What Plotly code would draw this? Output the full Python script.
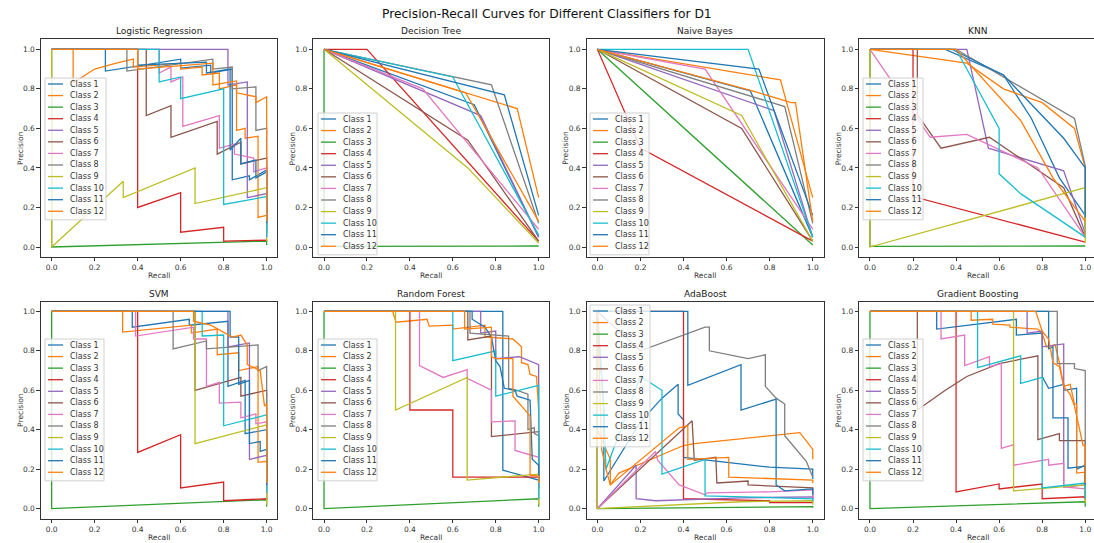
import plotly.graph_objects as go

W, H = 1094, 543

suptitle = "Precision-Recall Curves for Different Classifiers for D1"
panel_titles = ["Logistic Regression", "Decision Tree", "Naive Bayes", "KNN",
                "SVM", "Random Forest", "AdaBoost", "Gradient Boosting"]
class_names = [f"Class {i}" for i in range(1, 13)]
class_colors = ['#1f77b4', '#ff7f0e', '#2ca02c', '#d62728', '#9467bd', '#8c564b',
                '#e377c2', '#7f7f7f', '#bcbd22', '#17becf', '#1f77b4', '#ff7f0e']
tick_vals = [0.0, 0.2, 0.4, 0.6, 0.8, 1.0]
tick_text = ["0.0", "0.2", "0.4", "0.6", "0.8", "1.0"]

# (recall, precision) points per class, Class 1 .. Class 12
logistic_regression_pr = [
    [(0,1),(0.25,1),(0.25,0.89),(0.6,0.95),(0.6,0.905),(0.74,0.92),(0.74,0.88),(0.84,0.90),(0.84,0.34),(0.92,0.36),(0.92,0.34),(1.0,0.39),(1.0,0.16)],
    [(0,1),(0.1,1),(0.1,0.83),(0.2,0.9),(0.3,0.93),(0.38,0.95),(0.38,0.91),(0.6,0.93),(0.6,0.9),(0.7,0.91),(0.7,0.87),(0.78,0.88),(0.78,0.80),(0.86,0.82),(0.86,0.59),(0.9,0.60),(0.9,0.55),(0.96,0.56),(0.96,0.15),(1.0,0.16),(1.0,0.13)],
    [(0,1),(0,0),(1,0.03),(1,0.01)],
    [(0,1),(0.4,1),(0.4,0.2),(0.6,0.275),(0.6,0.075),(0.8,0.10),(0.8,0.03),(1.0,0.035),(1.0,0.03)],
    [(0,1),(0.82,1),(0.82,0.82),(0.91,0.835),(0.91,0.25),(1.0,0.27),(1.0,0.05)],
    [(0,1),(0.44,1),(0.44,0.665),(0.555,0.715),(0.555,0.555),(0.77,0.635),(0.77,0.47),(0.88,0.53),(0.88,0.42),(1.0,0.45),(1.0,0.07)],
    [(0,1),(0.5,1),(0.5,0.88),(0.555,0.91),(0.555,0.835),(0.61,0.86),(0.61,0.61),(0.78,0.665),(0.78,0.50),(0.85,0.52),(0.85,0.47),(0.94,0.45),(0.94,0.38),(1.0,0.40),(1.0,0.10)],
    [(0,1),(0.35,1),(0.35,0.89),(0.75,0.95),(0.75,0.90),(0.84,0.91),(0.84,0.80),(0.95,0.81),(0.95,0.59),(1.0,0.60),(1.0,0.20)],
    [(0,1),(0,0),(0.333,0.333),(0.333,0.25),(0.667,0.40),(0.667,0.22),(1.0,0.30),(1.0,0.03)],
    [(0,1),(0.5,1),(0.5,0.835),(0.6,0.86),(0.6,0.75),(0.8,0.80),(0.8,0.215),(1.0,0.255),(1.0,0.05)],
    [(0,1),(0.4,1),(0.4,0.92),(0.72,0.935),(0.72,0.88),(0.83,0.9),(0.83,0.49),(0.88,0.55),(0.88,0.42),(0.95,0.44),(0.95,0.35),(1.0,0.38),(1.0,0.12)],
    [(0,1),(0.4,1),(0.4,0.90),(0.75,0.93),(0.75,0.82),(0.86,0.84),(0.86,0.78),(0.95,0.76),(0.95,0.73),(1.0,0.76),(1.0,0.13)],
]

decision_tree_pr = [
    [(0,1),(0.7,0.72),(1,0.05)],
    [(0,1),(0.9,0.70),(1,0.25)],
    [(0,1),(0,0.003),(1,0.005)],
    [(0,1),(0.2,1),(1,0.03)],
    [(0,1),(0.73,0.665),(1,0.05)],
    [(0,1),(0.67,0.54),(1,0.03)],
    [(0,1),(0.46,0.80),(1,0.09)],
    [(0,1),(0.78,0.82),(1,0.12)],
    [(0,1),(0.67,0.40),(1,0.02)],
    [(0,1),(0.6,0.86),(1,0.06)],
    [(0,1),(0.84,0.77),(1,0.16)],
    [(0,1),(0.66,0.78),(1,0.13)],
]

naive_bayes_pr = [
    [(0,1),(0.71,0.79),(1,0.05)],
    [(0,1),(0.85,0.845),(1,0.25)],
    [(0,1),(1,0.01)],
    [(0,1),(0.2,0.5),(1,0.03)],
    [(0,1),(0.82,0.69),(1,0.05)],
    [(0,1),(0.67,0.60),(1,0.03)],
    [(0,1),(0.5,0.90),(1,0.09)],
    [(0,1),(0.87,0.71),(1,0.12)],
    [(0,1),(0.67,0.665),(1,0.03)],
    [(0,1),(0.7,1.0),(1,0.05)],
    [(0,1),(0.75,0.90),(1,0.16)],
    [(0,1),(0.72,0.79),(0.9,0.73),(0.92,0.73),(1,0.13)],
]

knn_pr = [
    [(0,1),(0.35,1),(0.62,0.87),(0.75,0.65),(0.88,0.35),(1,0.16),(1,0.05)],
    [(0,1),(0.45,0.93),(0.62,0.80),(0.8,0.73),(0.95,0.60),(1,0.40),(1,0.12)],
    [(0,1),(0,0.003),(1,0.005)],
    [(0,1),(0.2,1),(0.2,0.255),(1,0.025)],
    [(0,1),(0.45,1),(0.55,0.50),(0.9,0.385),(1,0.07)],
    [(0,1),(0.22,1),(0.22,0.67),(0.33,0.50),(0.555,0.555),(0.9,0.30),(1,0.05)],
    [(0,1),(0.28,0.555),(0.45,0.57),(0.78,0.40),(1,0.05)],
    [(0,1),(0.4,1),(0.95,0.65),(1,0.41),(1,0.10)],
    [(0,1),(0,0),(1,0.30),(1,0.02)],
    [(0,1),(0.4,1),(0.6,0.60),(0.6,0.37),(0.7,0.27),(1,0.05)],
    [(0,1),(0.38,1),(0.62,0.87),(0.9,0.55),(1,0.40),(1,0.15)],
    [(0,1),(0.4,1),(0.7,0.64),(0.85,0.35),(1,0.13)],
]

svm_pr = [
    [(0,1),(0.375,1),(0.375,0.92),(0.64,0.96),(0.64,0.93),(0.82,0.95),(0.82,0.62),(0.9,0.65),(0.9,0.38),(1,0.40),(1,0.15)],
    [(0,1),(0.33,1),(0.33,0.895),(0.65,0.93),(0.65,0.89),(0.77,0.91),(0.77,0.78),(0.87,0.79),(0.87,0.70),(0.96,0.72),(0.96,0.235),(1,0.24),(1,0.13)],
    [(0,1),(0,0),(1,0.045),(1,0.01)],
    [(0,1),(0.4,1),(0.4,0.285),(0.6,0.375),(0.6,0.105),(0.8,0.135),(0.8,0.04),(1,0.05),(1,0.04)],
    [(0,1),(0.82,1),(0.82,0.82),(0.92,0.84),(0.92,0.25),(1,0.27),(1,0.05)],
    [(0,1),(0.667,1),(0.667,0.60),(0.88,0.665),(0.88,0.57),(1,0.60),(1,0.05)],
    [(0,1),(0.39,1),(0.39,0.875),(0.66,0.92),(0.66,0.86),(0.72,0.86),(0.72,0.62),(0.78,0.64),(0.78,0.535),(0.88,0.54),(0.88,0.46),(0.95,0.48),(0.95,0.43),(1,0.44),(1,0.1)],
    [(0,1),(0.565,1),(0.565,0.81),(0.72,0.85),(0.72,0.81),(0.96,0.83),(0.96,0.70),(1,0.72),(1,0.2)],
    [(0,1),(0.667,1),(0.667,0.33),(1,0.425),(1,0.02)],
    [(0,1),(0.7,1),(0.7,0.875),(0.8,0.88),(0.8,0.42),(1,0.475),(1,0.08)],
    [(0,1),(0.83,1),(0.83,0.87),(0.87,0.87),(0.87,0.63),(0.92,0.65),(0.92,0.33),(0.97,0.34),(0.97,0.29),(1,0.30),(1,0.12)],
    [(0,1),(0.66,1),(0.66,0.95),(0.74,0.93),(0.84,0.87),(0.88,0.88),(0.91,0.83),(0.91,0.73),(0.97,0.70),(0.99,0.52),(1,0.53),(1,0.13)],
]

random_forest_pr = [
    [(0,1),(0.833,1),(0.833,0.195),(1,0.145),(1,0.14)],
    [(0,1),(0.32,1),(0.335,0.945),(0.48,0.96),(0.49,0.925),(0.6,0.93),(0.6,0.91),(0.75,0.93),(0.75,0.87),(0.88,0.86),(0.92,0.82),(0.92,0.74),(0.95,0.73),(0.96,0.68),(0.99,0.67),(1,0.5),(1,0.13)],
    [(0,1),(0,0),(1,0.05),(1,0.01)],
    [(0,1),(0.4,1),(0.4,0.50),(0.6,0.50),(0.6,0.16),(1,0.16),(1,0.14)],
    [(0,1),(0.73,1),(0.73,0.89),(0.8,0.90),(0.8,0.76),(0.91,0.77),(1,0.73),(1,0.1)],
    [(0,1),(0.67,1),(0.67,0.855),(0.78,0.875),(0.78,0.365),(1,0.39),(1,0.05)],
    [(0,1),(0.445,1),(0.445,0.725),(0.555,0.665),(0.667,0.705),(0.667,0.66),(0.78,0.60),(0.78,0.44),(0.89,0.445),(0.89,0.295),(1,0.26),(1,0.1)],
    [(0,1),(0.68,1),(0.68,0.89),(0.86,0.875),(0.86,0.61),(0.9,0.60),(0.95,0.58),(0.95,0.40),(0.98,0.41),(0.98,0.38),(1,0.37),(1,0.1)],
    [(0,1),(0.333,1),(0.333,0.50),(0.667,0.665),(0.667,0.145),(1,0.175),(1,0.02)],
    [(0,1),(0.6,1),(0.6,0.75),(0.8,0.80),(0.8,0.57),(1,0.625),(1,0.05)],
    [(0,1),(0.69,1),(0.69,0.96),(0.75,0.92),(0.78,0.87),(0.8,0.75),(0.82,0.72),(0.84,0.61),(0.89,0.60),(0.9,0.57),(0.96,0.55),(0.97,0.25),(1,0.22),(1,0.15)],
    [(0,1),(0.655,1),(0.655,0.91),(0.78,0.92),(0.78,0.77),(0.8,0.76),(0.88,0.76),(0.88,0.57),(0.96,0.47),(0.96,0.17),(1,0.165),(1,0.13)],
]

adaboost_pr = [
    [(0,1),(0.03,0.5),(0.03,0.14),(0.2,0.44),(0.3,0.56),(0.375,0.63),(0.375,0.48),(0.4,0.45),(0.4,0.26),(0.8,0.21),(1,0.2),(1,0.15)],
    [(0,1),(0,0.4),(0.06,0.25),(0.06,0.12),(0.1,0.18),(0.4,0.32),(0.45,0.33),(0.94,0.385),(0.98,0.33),(1,0.3),(1,0.25)],
    [(0,1),(0,0),(1,0.01),(1,0.005)],
    [(0,1),(0.4,1),(0.4,0.05),(0.8,0.04),(0.8,0.03),(1,0.03)],
    [(0,1),(0,0),(0.18,0.22),(0.18,0.05),(0.27,0.04),(0.67,0.055),(1,0.06),(1,0.03)],
    [(0,1),(0,0),(0.44,0.445),(0.45,0.245),(0.55,0.26),(0.555,0.13),(0.7,0.14),(0.7,0.12),(1,0.105),(1,0.05)],
    [(0,1),(0,0),(0.27,0.29),(0.28,0.245),(0.38,0.12),(0.5,0.07),(0.51,0.08),(0.8,0.085),(1,0.095),(1,0.05)],
    [(0,1),(0.2,0.8),(0.5,0.92),(0.52,0.92),(0.52,0.80),(0.7,0.76),(0.78,0.78),(0.78,0.62),(0.83,0.56),(0.87,0.53),(0.87,0.37),(0.97,0.24),(1,0.16)],
    [(0,1),(0,0),(0.667,0.035),(1,0.04),(1,0.02)],
    [(0,1),(0.03,0.5),(0.04,0.2),(0.2,0.67),(0.3,0.60),(0.3,0.175),(0.5,0.25),(0.5,0.065),(1,0.05),(1,0.04)],
    [(0,1),(0.42,1),(0.42,0.625),(0.667,0.73),(0.667,0.50),(0.83,0.555),(0.83,0.12),(0.87,0.09),(1,0.1),(1,0.07)],
    [(0,1),(0.02,0.3),(0.04,0.2),(0.06,0.12),(0.38,0.41),(0.42,0.42),(0.42,0.25),(0.61,0.26),(0.61,0.16),(0.9,0.15),(1,0.145),(1,0.13)],
]

gradient_boosting_pr = [
    [(0,1),(0.31,1),(0.31,0.91),(0.68,0.96),(0.68,0.88),(0.8,0.89),(0.8,0.67),(0.83,0.61),(0.9,0.63),(0.9,0.60),(0.96,0.61),(0.96,0.20),(1,0.22),(1,0.12)],
    [(0,1),(0.47,1),(0.47,0.955),(0.57,0.96),(0.57,0.935),(0.65,0.93),(0.65,0.92),(0.78,0.91),(0.8,0.89),(0.82,0.82),(0.86,0.83),(0.88,0.74),(0.9,0.62),(0.93,0.63),(0.95,0.53),(0.96,0.53),(0.96,0.18),(1,0.185),(1,0.13)],
    [(0,1),(0,0),(1,0.035),(1,0.01)],
    [(0,1),(0.4,1),(0.4,0.085),(0.6,0.125),(0.6,0.10),(0.8,0.125),(0.8,0.05),(1,0.06),(1,0.04)],
    [(0,1),(0.73,1),(0.73,0.89),(0.8,0.90),(0.8,0.82),(0.9,0.835),(0.9,0.11),(1,0.12),(1,0.05)],
    [(0,1),(0.22,1),(0.22,0.50),(0.35,0.60),(0.45,0.67),(0.6,0.735),(0.78,0.775),(0.78,0.35),(0.88,0.38),(0.88,0.345),(1,0.345),(1,0.05)],
    [(0,1),(0.33,1),(0.33,0.86),(0.44,0.88),(0.44,0.725),(0.555,0.77),(0.555,0.72),(0.61,0.735),(0.61,0.305),(0.667,0.325),(0.667,0.22),(0.83,0.25),(0.83,0.22),(0.9,0.23),(0.9,0.11),(1,0.1),(1,0.08)],
    [(0,1),(0.87,1),(0.87,0.735),(0.95,0.735),(0.95,0.71),(1,0.70),(1,0.1)],
    [(0,1),(0.667,1),(0.667,0.09),(1,0.12),(1,0.03)],
    [(0,1),(0.5,1),(0.5,0.715),(0.7,0.775),(0.7,0.635),(0.8,0.665),(0.8,0.105),(1,0.13),(1,0.05)],
    [(0,1),(0.83,1),(0.83,0.81),(0.85,0.82),(0.85,0.46),(0.92,0.46),(0.92,0.205),(1,0.215),(1,0.12)],
    [(0,1),(0.77,1),(0.8,0.90),(0.83,0.86),(0.85,0.74),(0.88,0.72),(0.9,0.62),(0.93,0.58),(0.95,0.52),(0.97,0.42),(0.99,0.32),(1,0.32),(1,0.13)],
]

panel_data = [logistic_regression_pr, decision_tree_pr, naive_bayes_pr, knn_pr,
              svm_pr, random_forest_pr, adaboost_pr, gradient_boosting_pr]

# ---------------- layout geometry (pixels) ----------------
col_px = [(40.9, 277.4), (313.3, 549.4), (586.6, 823.5), (859.2, 1096.0)]
row_px = [(39.4, 256.9), (301.5, 518.5)]
legend_px = [(45, 78, 61), (318, 113, 59), (590, 113, 59), (863, 78, 60),
             (45, 339, 59), (318, 339, 59), (590, 305, 60), (863, 339, 60)]
FONT = "DejaVu Sans"


def px(x):
    return x / W


def py(y):
    return 1 - y / H


fig = go.Figure()
layout = dict(width=W, height=H, margin=dict(l=0, r=0, t=0, b=0),
              paper_bgcolor="white", plot_bgcolor="white", showlegend=False,
              font=dict(family=FONT, color="#222"))
shapes, annotations = [], []

for k, (title, curves) in enumerate(zip(panel_titles, panel_data)):
    r, c = divmod(k, 4)
    x0, x1 = col_px[c]
    y0, y1 = row_px[r]
    xr = [-0.05, 1.05]
    if x1 > W:
        xr = [-0.05, -0.05 + 1.1 * (W - x0) / (x1 - x0)]
        x1 = W
    sfx = "" if k == 0 else str(k + 1)
    axis_common = dict(showgrid=False, zeroline=False, showline=True, mirror=True,
                       linecolor="#333", linewidth=1, ticks="outside", ticklen=3.5,
                       tickcolor="#333", tickvals=tick_vals, ticktext=tick_text,
                       tickfont=dict(size=7.5, family=FONT, color="#333"))
    layout["xaxis" + sfx] = dict(domain=[px(x0), px(x1)], range=xr, anchor="y" + sfx,
                                 **axis_common)
    layout["yaxis" + sfx] = dict(domain=[py(y1), py(y0)], range=[-0.05, 1.05],
                                 anchor="x" + sfx, **axis_common)
    for i, pts in enumerate(curves):
        fig.add_trace(go.Scatter(x=[p[0] for p in pts], y=[p[1] for p in pts],
                                 mode="lines", name=class_names[i],
                                 line=dict(color=class_colors[i], width=1.3),
                                 xaxis="x" + sfx, yaxis="y" + sfx,
                                 hoverinfo="skip"))
    cx = (col_px[c][0] + col_px[c][1]) / 2
    annotations.append(dict(text=title, x=px(cx), y=py(y0 - 8), xref="paper", yref="paper",
                            showarrow=False, xanchor="center", yanchor="middle",
                            font=dict(size=9, family=FONT, color="#222")))
    annotations.append(dict(text="Recall", x=px(cx), y=py(y1 + 19), xref="paper", yref="paper",
                            showarrow=False, xanchor="center", yanchor="middle",
                            font=dict(size=7.5, family=FONT, color="#333")))
    annotations.append(dict(text="Precision", x=px(col_px[c][0] - 21), y=py((y0 + y1) / 2),
                            xref="paper", yref="paper", showarrow=False, textangle=-90,
                            xanchor="center", yanchor="middle",
                            font=dict(size=7.5, family=FONT, color="#333")))
    # legend box
    lx, ly, lw = legend_px[k]
    step = 11.57
    lh = 12 * step + 3
    shapes.append(dict(type="rect", xref="paper", yref="paper", x0=px(lx), x1=px(lx + lw),
                       y0=py(ly + lh), y1=py(ly), fillcolor="rgba(255,255,255,0.8)",
                       line=dict(color="#d0d0d0", width=1), layer="above"))
    for i in range(12):
        yy = ly + 6 + step * i
        shapes.append(dict(type="line", xref="paper", yref="paper", x0=px(lx + 3),
                           x1=px(lx + 18), y0=py(yy), y1=py(yy),
                           line=dict(color=class_colors[i], width=1.3), layer="above"))
        annotations.append(dict(text=class_names[i], x=px(lx + 23), y=py(yy), xref="paper",
                                yref="paper", showarrow=False, xanchor="left",
                                yanchor="middle",
                                font=dict(size=8, family=FONT, color="#333")))

annotations.append(dict(text=suptitle, x=0.5, y=py(14), xref="paper", yref="paper",
                        showarrow=False, xanchor="center", yanchor="middle",
                        font=dict(size=12.3, family=FONT, color="#111")))
layout["shapes"] = shapes
layout["annotations"] = annotations
fig.update_layout(**layout)
fig.write_html("out.html", config={"displayModeBar": False},
               post_script="document.body.style.margin='0px';document.body.style.overflow='hidden';")
